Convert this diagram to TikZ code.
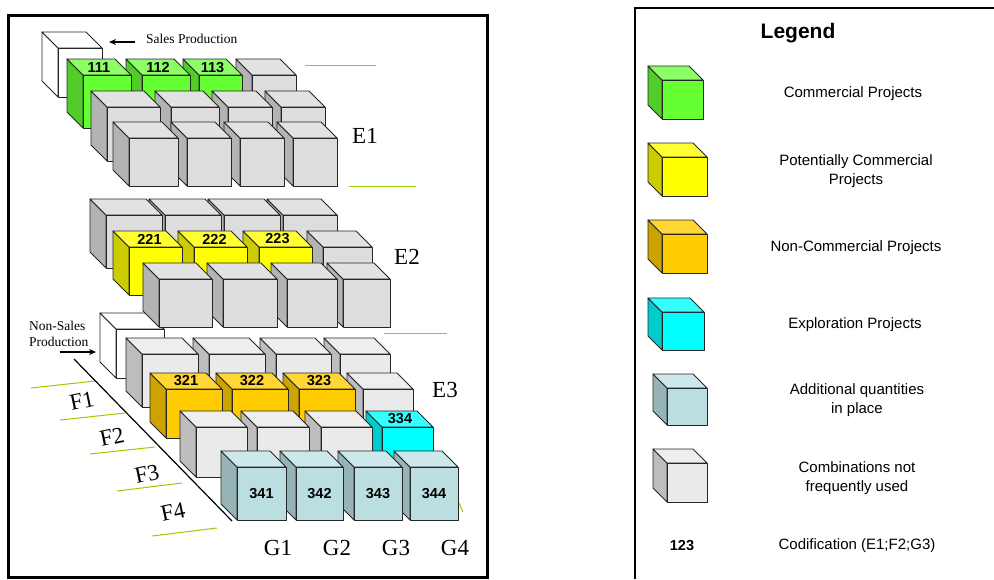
\documentclass[tikz,border=0pt]{standalone}
\usepackage{fontspec}
\usetikzlibrary{arrows.meta}
\setmainfont{Liberation Serif}
\newfontfamily\arialf{Liberation Sans}
\definecolor{grnf}{HTML}{66FF33}\definecolor{grnt}{HTML}{8CFF66}\definecolor{grns}{HTML}{52CC29}
\definecolor{yelf}{HTML}{FFFF00}\definecolor{yelt}{HTML}{FFFF33}\definecolor{yels}{HTML}{CCCC00}
\definecolor{orgf}{HTML}{FFCC00}\definecolor{orgt}{HTML}{FFD633}\definecolor{orgs}{HTML}{CCA300}
\definecolor{cyaf}{HTML}{00FFFF}\definecolor{cyat}{HTML}{33FFFF}\definecolor{cyas}{HTML}{00CCCC}
\definecolor{lbf}{HTML}{BBDFE1}\definecolor{lbt}{HTML}{CCE8EA}\definecolor{lbs}{HTML}{96B4B6}
\definecolor{gryf}{HTML}{DDDDDD}\definecolor{gryt}{HTML}{E2E2E2}\definecolor{grys}{HTML}{B3B3B3}
\definecolor{lgyf}{HTML}{EAEAEA}\definecolor{lgyt}{HTML}{EEEEEE}\definecolor{lgys}{HTML}{BDBDBD}
\definecolor{whtf}{HTML}{FFFFFF}\definecolor{whtt}{HTML}{FFFFFF}\definecolor{whts}{HTML}{FFFFFF}
\definecolor{ygreen}{HTML}{99CC00}
\newcommand\cubeX[6]{%
 \filldraw[cubeline, fill=#6s] (#1,#3) -- (#1-#5,#3-#5) -- (#1-#5,#4-#5) -- (#1,#4) -- cycle;
 \filldraw[cubeline, fill=#6t] (#1,#3) -- (#1-#5,#3-#5) -- (#2-#5,#3-#5) -- (#2,#3) -- cycle;
 \filldraw[cubeline, fill=#6f] (#1,#3) rectangle (#2,#4);}
\begin{document}
\begin{tikzpicture}[x=1pt,y=-1pt,
 cubeline/.style={draw=black!85, line width=0.9pt, line join=round},
 code/.style={font=\arialf\bfseries\fontsize{14.5}{14.5}\selectfont, inner sep=0pt},
 serifL/.style={font=\fontsize{23}{23}\selectfont, inner sep=0pt},
 serifS/.style={font=\fontsize{13.5}{16}\selectfont, inner sep=0pt, align=left},
 legtext/.style={font=\arialf\fontsize{15}{18.5}\selectfont, align=center, inner sep=0pt},
 gline/.style={draw=ygreen, line width=1pt},
 arr/.style={-{Stealth[length=7pt,width=6pt]}, line width=1.3pt}]
\useasboundingbox (0,0) rectangle (994,579);
% frames
\draw[line width=3pt] (8.5,15) rectangle (487,577);
\draw[line width=2pt] (635,579) -- (635,8) -- (994,8);
% green lines
\draw[gline] (305,65) -- (376,65);
\draw[gline] (349,186) -- (416,186);
\draw[gline] (384,333) -- (447,333);
\draw[gline] (31,388) -- (95,381);
\draw[gline] (60,420) -- (125,413);
\draw[gline] (90,454) -- (155,447);
\draw[gline] (117,491) -- (182,483);
\draw[gline] (152,536) -- (217,528);
\draw[gline] (459,503) -- (463,512);
\draw[line width=1.2pt] (74,359) -- (232,521);
% ---------- E3 ----------
\cubeX{116}{164}{329}{378}{16}{wht}
\cubeX{340}{390}{354}{407}{16}{lgy}
\cubeX{276}{331}{354}{407}{16}{lgy}
\cubeX{209}{265}{354}{407}{16}{lgy}
\cubeX{142}{198}{354}{407}{16}{lgy}
\cubeX{363}{413}{389}{438}{16}{lgy}
\cubeX{299}{355}{389}{438}{16}{org}
\cubeX{232}{288}{389}{438}{16}{org}
\cubeX{166}{222}{389}{438}{16}{org}
\node[code] (c321) at (186,381) {321};
\node[code] (c322) at (252,381) {322};
\node[code] (c323) at (319,381) {323};
\cubeX{382}{433}{427}{477}{16}{cya}
\cubeX{321}{372}{427}{477}{16}{lgy}
\cubeX{257}{309}{427}{477}{16}{lgy}
\cubeX{196}{247}{427}{477}{16}{lgy}
\node[code] (c334) at (400,419) {334};
\cubeX{410}{458}{467}{520}{16}{lb}
\cubeX{354}{402}{467}{520}{16}{lb}
\cubeX{296}{343}{467}{520}{16}{lb}
\cubeX{237}{286}{467}{520}{16}{lb}
\node[code] (c341) at (261.5,493.5) {341};
\node[code] (c342) at (319.5,493.5) {342};
\node[code] (c343) at (378,493.5) {343};
\node[code] (c344) at (434,493.5) {344};
% ---------- E2 ----------
\cubeX{283}{337}{215}{268}{16}{gry}
\cubeX{224}{280}{215}{268}{16}{gry}
\cubeX{165}{221}{215}{268}{16}{gry}
\cubeX{106}{162}{215}{268}{16}{gry}
\cubeX{323}{372}{247}{295}{16}{gry}
\cubeX{259}{312}{247}{295}{16}{yel}
\cubeX{194}{247}{247}{295}{16}{yel}
\cubeX{129}{182}{247}{295}{16}{yel}
\node[code] (c221) at (149.5,239) {221};
\node[code] (c222) at (214.5,239) {222};
\node[code] (c223) at (277.5,239) {223};
\cubeX{343}{390}{279}{327}{16}{gry}
\cubeX{287}{337}{279}{327}{16}{gry}
\cubeX{223}{277}{279}{327}{16}{gry}
\cubeX{159}{212}{279}{327}{16}{gry}
% ---------- E1 ----------
\cubeX{58}{102}{48}{97}{16}{wht}
\cubeX{252}{296}{75}{128}{16}{gry}
\cubeX{199}{242}{75}{128}{16}{grn}
\cubeX{142}{190}{75}{128}{16}{grn}
\cubeX{83}{131}{75}{128}{16}{grn}
\node[code] (c111) at (99,67.5) {111};
\node[code] (c112) at (158,67.5) {112};
\node[code] (c113) at (212.5,67.5) {113};
\cubeX{281}{325}{107}{161}{16}{gry}
\cubeX{228}{272}{107}{161}{16}{gry}
\cubeX{171}{219}{107}{161}{16}{gry}
\cubeX{107}{160}{107}{161}{16}{gry}
\cubeX{293}{337}{138}{186}{16}{gry}
\cubeX{240}{284}{138}{186}{16}{gry}
\cubeX{187}{231}{138}{186}{16}{gry}
\cubeX{129}{178}{138}{186}{16}{gry}
% labels
\node[serifS, anchor=west] (sales) at (146,39) {Sales Production};
\coordinate (sa1) at (135,42); \coordinate (sa2) at (109,42);
\draw[arr] (sa1) -- (sa2);
\node[serifS, anchor=west] (nonsales) at (29,334) {Non-Sales\\Production};
\coordinate (na1) at (60,352); \coordinate (na2) at (96,352);
\draw[arr] (na1) -- (na2);
\node[serifL] (e1) at (365,136) {E1};
\node[serifL] (e2) at (407,257) {E2};
\node[serifL] (e3) at (445,390) {E3};
\node[serifL] (g1) at (278,548) {G1};
\node[serifL] (g2) at (337,548) {G2};
\node[serifL] (g3) at (396,548) {G3};
\node[serifL] (g4) at (455,548) {G4};
\node[serifL, rotate=12] (f1) at (82,401) {F1};
\node[serifL, rotate=12] (f2) at (112,437) {F2};
\node[serifL, rotate=12] (f3) at (147,474) {F3};
\node[serifL, rotate=12] (f4) at (173,512) {F4};
% ---------- legend ----------
\node[font=\arialf\bfseries\fontsize{21}{21}\selectfont, inner sep=0pt] (leg) at (798,33) {Legend};
\cubeX{662}{703}{80}{119}{14}{grn}
\cubeX{662}{707}{157}{196}{14}{yel}
\cubeX{662}{707}{234}{273}{14}{org}
\cubeX{662}{704}{312}{350}{14}{cya}
\cubeX{667}{707}{388}{425}{14}{lb}
\cubeX{667}{707}{463}{502}{14}{lgy}
\node[legtext] (l1) at (853,94) {Commercial Projects};
\node[legtext] (l2) at (856,171) {Potentially Commercial\\Projects};
\node[legtext] (l3) at (856,248) {Non-Commercial Projects};
\node[legtext] (l4) at (855,325) {Exploration Projects};
\node[legtext] (l5) at (857,400) {Additional quantities\\in place};
\node[legtext] (l6) at (857,478) {Combinations not\\frequently used};
\node[code] (l7code) at (682,546) {123};
\node[legtext] (l7) at (857,546) {Codification (E1;F2;G3)};
\end{tikzpicture}
\end{document}
